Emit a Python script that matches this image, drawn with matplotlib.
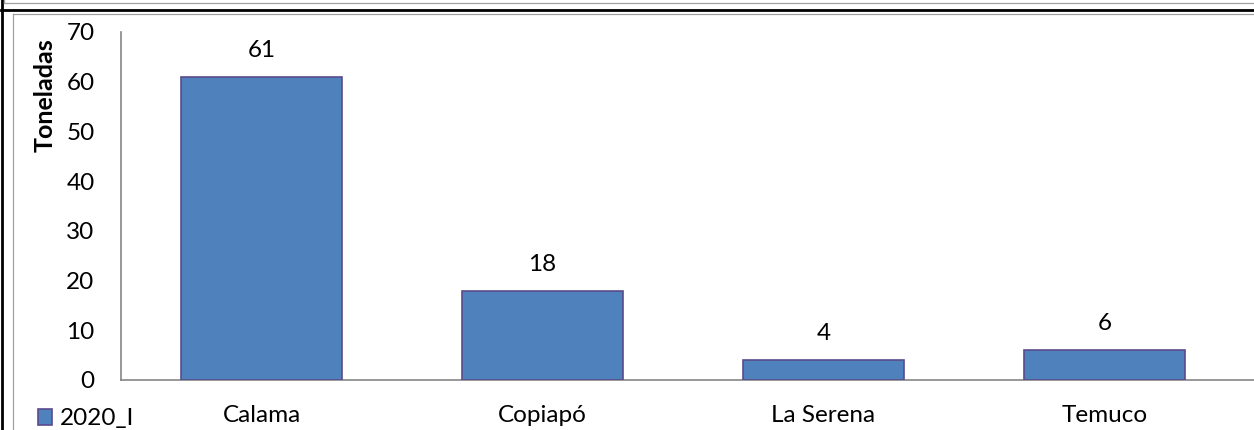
import matplotlib
matplotlib.use("Agg")
import matplotlib.pyplot as plt
from matplotlib.lines import Line2D
from matplotlib.patches import Patch

plt.rcParams['font.family'] = ['Lato', 'DejaVu Sans']
plt.rcParams['font.size'] = 17.5

# data
ciudades = ['Calama', 'Copiapó', 'La Serena', 'Temuco']
toneladas = [61, 18, 4, 6]
serie = '2020_I'
y_ticks = [0, 10, 20, 30, 40, 50, 60, 70]

W, H = 1254, 430
BAR_COLOR = '#4F81BD'
EDGE_COLOR = '#5A4C8C'
AXIS_COLOR = '#868686'
FS = 17.5


def fx(px):
    return px / W


def fy(py):
    return 1 - py / H


fig = plt.figure(figsize=(W / 100, H / 100), dpi=100)

# axes: left at x=121, bottom at y=380, top at y=32; runs past the right edge
cat_w = 281
ax_right = 1262
ax = fig.add_axes([fx(121), fy(380), fx(ax_right - 121), (380 - 32) / H])

x = range(len(ciudades))
ax.bar(x, toneladas, width=0.57, color=BAR_COLOR, edgecolor=EDGE_COLOR,
       linewidth=1.2, zorder=3)

for xi, v in zip(x, toneladas):
    ax.annotate(str(v), (xi, v), xytext=(0, 19), textcoords='offset points',
                ha='center', va='center', fontsize=FS)

ax.set_xlim(-0.5, -0.5 + (ax_right - 121) / cat_w)
ax.set_ylim(0, 70)
ax.set_yticks(y_ticks)
ax.set_xticks(list(x))
ax.set_xticklabels(ciudades)
ax.tick_params(axis='both', length=0, labelsize=FS)
ax.tick_params(axis='y', pad=19)
ax.tick_params(axis='x', pad=18)

for s in ['top', 'right']:
    ax.spines[s].set_visible(False)
for s in ['left', 'bottom']:
    ax.spines[s].set_color(AXIS_COLOR)
    ax.spines[s].set_linewidth(1.2)

fig.text(fx(45), fy(95), 'Toneladas', rotation=90, ha='center', va='center',
         fontsize=18, fontweight='bold')

# legend at the bottom-left (cut off by the crop)
handle = Patch(facecolor=BAR_COLOR, edgecolor=EDGE_COLOR, linewidth=1.2)
fig.legend([handle], [serie], loc='center left',
           bbox_to_anchor=(fx(28), fy(419)), frameon=False,
           handlelength=0.6, handleheight=0.6, handletextpad=0.3,
           fontsize=FS, borderaxespad=0)

# surrounding frame lines of the sheet
fig.add_artist(Line2D([fx(1.5), fx(1.5)], [0, 1], color='black', lw=2))
fig.add_artist(Line2D([fx(4), fx(W)], [fy(3), fy(3)], color='#A0A0A0', lw=0.9))
fig.add_artist(Line2D([fx(4), fx(4)], [fy(0), fy(3)], color='#A0A0A0', lw=0.9))
fig.add_artist(Line2D([fx(1), fx(W)], [fy(10), fy(10)], color='black', lw=2))
fig.add_artist(Line2D([fx(13), fx(W)], [fy(14), fy(14)], color='#A0A0A0', lw=0.9))
fig.add_artist(Line2D([fx(13), fx(13)], [fy(14), 0], color='#A0A0A0', lw=0.9))

fig.savefig('out.png', dpi=100)
